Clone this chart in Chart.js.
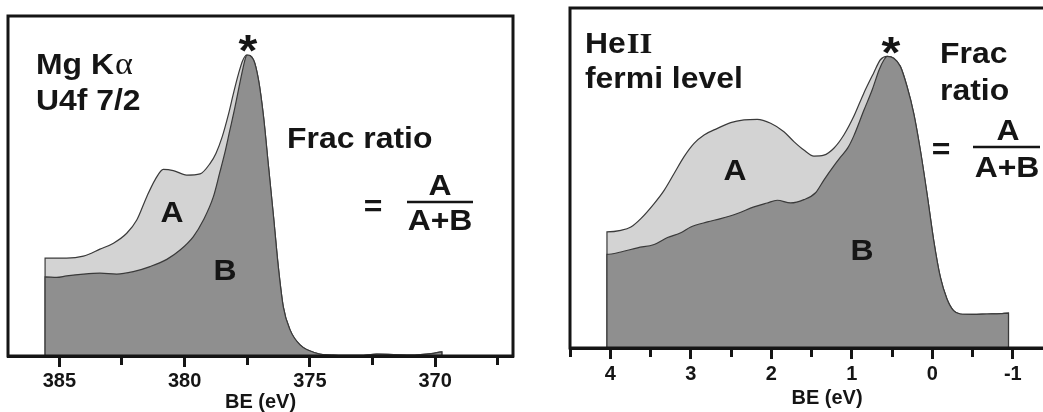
<!DOCTYPE html>
<html>
<head>
<meta charset="utf-8">
<script src="https://cdn.jsdelivr.net/npm/chart.js@4.4.1/dist/chart.umd.min.js"></script>
<style>
  html, body { margin: 0; padding: 0; background: #fff; overflow: hidden; width: 1043px; height: 412px; }
  #mgChart { position: absolute; left: 0; top: 0; }
  #heChart { position: absolute; left: 520px; top: 0; }
</style>
</head>
<body>
<canvas id="mgChart" width="520" height="412"></canvas>
<canvas id="heChart" width="564" height="412"></canvas>
<script>
// ===== Mg Kα / U4f 7/2 panel (BE in eV, intensity in arb. units) =====
const mgTotalBE = [385.57, 385.57, 384.71, 384.04, 383.38, 382.84, 382.31, 381.91, 381.51, 381.18, 380.85, 380.45, 379.92, 379.38, 378.98, 378.75, 378.5, 378.25, 378.05, 377.85, 377.68];
const mgTotalI  = [0, 32.6, 32.6, 33.3, 35.6, 37.6, 40.9, 45.3, 53.1, 58.7, 62.2, 61.8, 60.3, 60.7, 64.2, 67.5, 73, 80.5, 87.5, 94, 98.5];
const mgBandBBE = [385.57, 385.57, 385.11, 384.71, 384.04, 383.38, 382.71, 382.05, 381.38, 380.71, 380.18, 379.65, 379.25, 378.85, 378.6, 378.4, 378.2, 378.0, 377.83, 377.68, 377.58];
const mgBandBI  = [0, 26.4, 26.2, 26.7, 27.3, 27.6, 27.3, 28.1, 29.8, 32.2, 35.3, 39.8, 45.3, 53.1, 61, 67.5, 75, 82.5, 89.5, 95.5, 99];
// peak and tail, shared by both curves
const mgPeakBE  = [377.52, 377.25, 377.05, 376.85, 376.65, 376.45, 376.26, 376.06, 375.79, 375.39, 374.72, 374.06, 373.0, 372.33, 371.0, 370.07, 369.73, 369.73];
const mgPeakI   = [100.3, 98.7, 92, 79.8, 63.1, 46.4, 29.8, 16.4, 8.7, 3.7, 0.9, 0.3, 0.2, 0.6, 0.3, 0.9, 1.4, 0];

// ===== HeII fermi level panel =====
const heTotalBE = [4.041, 4.041, 3.868, 3.744, 3.620, 3.455, 3.331, 3.207, 3.083, 2.959, 2.835, 2.669, 2.504, 2.339, 2.174, 2.008, 1.843, 1.719, 1.595, 1.471, 1.347, 1.223, 1.099, 0.975, 0.851, 0.727, 0.645];
const heTotalI  = [0, 38.6, 39.1, 40.2, 43, 48, 52.4, 58, 63.6, 68, 70.8, 73, 74.9, 75.8, 76, 74.7, 71.9, 68.6, 65.8, 63.8, 64.1, 66.4, 70.8, 77, 84.7, 91.5, 95.8];
const heBandBBE = [4.041, 4.041, 3.868, 3.661, 3.455, 3.289, 3.124, 3.0, 2.793, 2.628, 2.421, 2.215, 2.05, 1.926, 1.76, 1.595, 1.45, 1.347, 1.223, 1.141, 1.05, 0.975, 0.85, 0.744, 0.66, 0.6];
const heBandBI  = [0, 31.1, 31.9, 33.3, 34.4, 36.7, 38.3, 40.2, 41.9, 43, 44.7, 46.9, 48.2, 49.1, 48.2, 49.3, 51.6, 55.8, 60.5, 63.4, 66.5, 70.5, 79, 86, 92.5, 95.8];
const hePeakBE  = [0.562, 0.479, 0.397, 0.314, 0.231, 0.149, 0.066, -0.017, -0.099, -0.182, -0.264, -0.347, -0.5, -0.678, -0.85, -0.946, -0.946];
const hePeakI   = [96.9, 96.3, 93.6, 86.9, 78, 65.8, 51.3, 35.8, 23.6, 16.3, 12.4, 11.3, 11.2, 11.3, 11.4, 11.6, 0];

// ===== Colours / fonts =====
const INK = '#151515';
const LIGHT = '#d3d3d3';
const DARK = '#8f8f8f';
const EDGE = '#3a3a3a';
const SANS = '"Liberation Sans", Arial, sans-serif';
const SERIF = '"Liberation Serif", "Times New Roman", serif';
const SX = 1.1; // the original figure is stretched a little horizontally

const toPoints = (xs, ys) => xs.map((x, i) => ({ x, y: ys[i] }));

// ===== Text helpers =====
const textAt = (ctx, text, x, y, font) => {
    ctx.save();
    ctx.font = font;
    ctx.fillStyle = INK;
    ctx.textAlign = 'left';
    ctx.textBaseline = 'alphabetic';
    ctx.translate(x, y);
    ctx.scale(SX, 1);
    ctx.fillText(text, 0, 0);
    const w = ctx.measureText(text).width * SX;
    ctx.restore();
    return w;
};

const textCentered = (ctx, text, cx, cy, font) => {
    ctx.save();
    ctx.font = font;
    ctx.fillStyle = INK;
    ctx.textAlign = 'center';
    ctx.textBaseline = 'alphabetic';
    const m = ctx.measureText(text);
    const off = (m.actualBoundingBoxAscent - m.actualBoundingBoxDescent) / 2;
    ctx.translate(cx, cy + off);
    ctx.scale(SX, 1);
    ctx.fillText(text, 0, 0);
    ctx.restore();
};

const fracBar = (ctx, x1, x2, y) => {
    ctx.save();
    ctx.strokeStyle = INK;
    ctx.lineWidth = 2.5;
    ctx.beginPath();
    ctx.moveTo(x1, y);
    ctx.lineTo(x2, y);
    ctx.stroke();
    ctx.restore();
};

// frame round the plot area
const framePlugin = {
    id: 'frame',
    afterDatasetsDraw(chart) {
        const { ctx, chartArea: a } = chart;
        ctx.save();
        ctx.strokeStyle = INK;
        ctx.lineWidth = 3;
        ctx.strokeRect(a.left, a.top, a.right - a.left, a.bottom - a.top);
        ctx.restore();
    }
};

// ===== Shared chart config =====
const B29 = `bold 29px ${SANS}`;

const makeDatasets = (totalPts, bPts) => [
    { label: 'B', data: bPts, backgroundColor: DARK, borderColor: EDGE, borderWidth: 1.2, fill: 'origin',
      pointRadius: 0, cubicInterpolationMode: 'monotone' },
    { label: 'A+B', data: totalPts, backgroundColor: LIGHT, borderColor: EDGE, borderWidth: 1.2, fill: 'origin',
      pointRadius: 0, cubicInterpolationMode: 'monotone' }
];

const makeXScale = ({ min, max, step, major, axisHeight, tickPad, titlePad }) => {
    const isMajor = v => Math.abs(v / major - Math.round(v / major)) < 1e-6;
    return {
        type: 'linear', reverse: true, min, max,
        afterBuildTicks: s => {
            s.ticks = s.ticks.filter(t => Math.abs(t.value / step - Math.round(t.value / step)) < 1e-6);
        },
        afterFit: s => { s.height = axisHeight; },
        ticks: {
            stepSize: step, includeBounds: false, autoSkip: false, maxRotation: 0, padding: tickPad, color: INK,
            font: { family: SANS, size: 20, weight: 'bold' },
            callback: v => isMajor(v) ? String(Math.round(v)) : ''
        },
        grid: {
            drawOnChartArea: false, drawTicks: true, tickLength: 11, tickWidth: 3, tickColor: INK,
            tickBorderDash: c => (c.tick && isMajor(c.tick.value)) ? [] : [7, 40]
        },
        border: { display: true, width: 3, color: INK },
        title: {
            display: true, text: 'BE (eV)', color: INK,
            font: { family: SANS, size: 20, weight: 'bold', lineHeight: 1 },
            padding: { top: 0, bottom: titlePad }
        }
    };
};

const baseOptions = (xScale, yMax, padding) => ({
    responsive: false,
    animation: false,
    layout: { padding },
    plugins: { legend: { display: false }, tooltip: { enabled: false } },
    scales: {
        x: xScale,
        y: { display: false, min: 0, max: yMax }
    }
});

// ===== Left: Mg Kα =====
const mgLabels = {
    id: 'mgLabels',
    afterDraw(chart) {
        const ctx = chart.ctx;
        const w = textAt(ctx, 'Mg K', 36, 74, B29);
        textAt(ctx, 'α', 36 + w + 1, 74, `31px ${SERIF}`);
        textAt(ctx, 'U4f 7/2', 36, 110, B29);
        textCentered(ctx, '*', 248, 43, `bold 44px ${SANS}`);
        textAt(ctx, 'Frac ratio', 287, 148, B29);
        textCentered(ctx, '=', 373, 206, B29);
        textCentered(ctx, 'A', 440, 185, B29);
        fracBar(ctx, 407, 473, 202);
        textCentered(ctx, 'A+B', 440, 220, B29);
        textCentered(ctx, 'A', 172, 212, B29);
        textCentered(ctx, 'B', 225, 270, B29);
    }
};

new Chart(document.getElementById('mgChart'), {
    type: 'line',
    data: { datasets: makeDatasets(
        toPoints(mgTotalBE.concat(mgPeakBE), mgTotalI.concat(mgPeakI)),
        toPoints(mgBandBBE.concat(mgPeakBE), mgBandBI.concat(mgPeakI))
    ) },
    options: baseOptions(
        makeXScale({ min: 366.89, max: 387.05, step: 2.5, major: 5, axisHeight: 56, tickPad: 2, titlePad: 0 }),
        113.3,
        { left: 8, right: 7, top: 16, bottom: 0 }
    ),
    plugins: [framePlugin, mgLabels]
});

// ===== Right: HeII fermi level =====
const OX = 520; // canvas offset on the page
const heLabels = {
    id: 'heLabels',
    afterDraw(chart) {
        const ctx = chart.ctx;
        const w = textAt(ctx, 'He', 585 - OX, 53, B29);
        textAt(ctx, 'II', 585 - OX + w + 1, 53, `bold 30px ${SERIF}`);
        textAt(ctx, 'fermi level', 585 - OX, 88, B29);
        textCentered(ctx, '*', 891 - OX, 45, `bold 44px ${SANS}`);
        textAt(ctx, 'Frac', 940 - OX, 63, B29);
        textAt(ctx, 'ratio', 940 - OX, 100, B29);
        textCentered(ctx, '=', 941 - OX, 149, B29);
        textCentered(ctx, 'A', 1008 - OX, 130, B29);
        fracBar(ctx, 973 - OX, 1040 - OX, 147);
        textCentered(ctx, 'A+B', 1007 - OX, 167, B29);
        textCentered(ctx, 'A', 735 - OX, 170, B29);
        textCentered(ctx, 'B', 862 - OX, 250, B29);
    }
};

new Chart(document.getElementById('heChart'), {
    type: 'line',
    data: { datasets: makeDatasets(
        toPoints(heTotalBE.concat(hePeakBE), heTotalI.concat(hePeakI)),
        toPoints(heBandBBE.concat(hePeakBE), heBandBI.concat(hePeakI))
    ) },
    options: baseOptions(
        makeXScale({ min: -1.884, max: 4.5, step: 0.5, major: 1, axisHeight: 64, tickPad: 3, titlePad: 4 }),
        113,
        { left: 50, right: 0, top: 8, bottom: 0 }
    ),
    plugins: [framePlugin, heLabels]
});
</script>
</body>
</html>
